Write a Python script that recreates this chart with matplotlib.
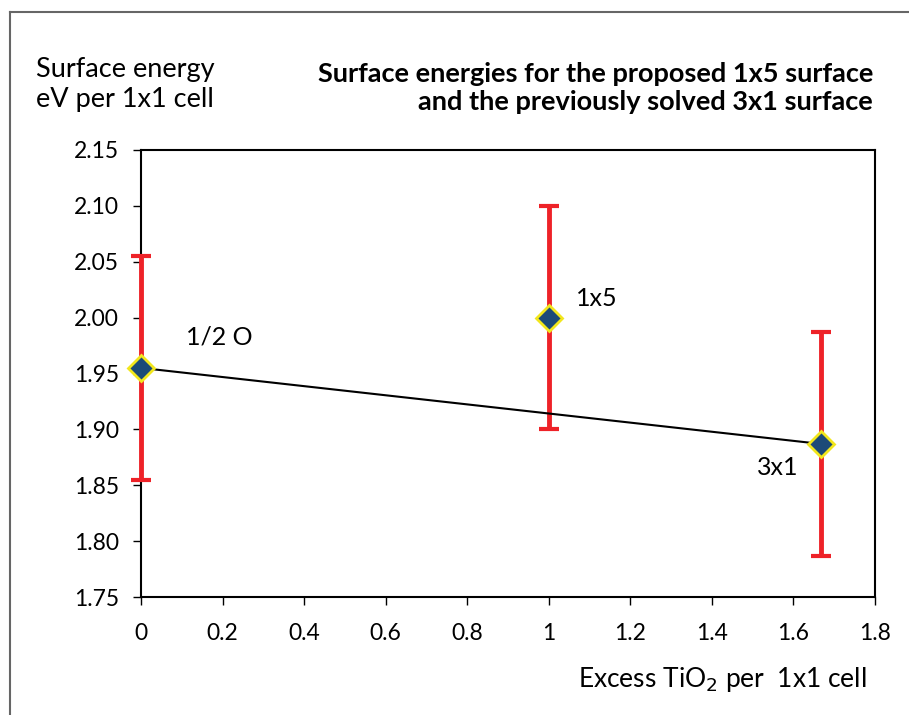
import matplotlib.pyplot as plt
from matplotlib.lines import Line2D

plt.rcParams['font.family'] = ['Lato', 'DejaVu Sans']

# data
labels = ['1/2 O', '1x5', '3x1']
excess_tio2 = [0.0, 1.0, 5 / 3]
energy = [1.955, 2.00, 1.887]
err = [0.10, 0.10, 0.10]
line_idx = [0, 2]  # line joins 1/2 O and 3x1
x_ticks = [0, 0.2, 0.4, 0.6, 0.8, 1, 1.2, 1.4, 1.6, 1.8]
x_tick_labels = ['0', '0.2', '0.4', '0.6', '0.8', '1', '1.2', '1.4', '1.6', '1.8']
y_ticks = [1.75, 1.80, 1.85, 1.90, 1.95, 2.00, 2.05, 2.10, 2.15]

W, H = 909, 715
fig = plt.figure(figsize=(W / 100, H / 100), dpi=100)
ax = fig.add_axes([141 / W, 1 - 597 / H, (875 - 141) / W, (597 - 150) / H])

# outer frame (left and top edges visible)
fig.add_artist(Line2D([10 / W, 10 / W], [0, 1 - 12 / H], color='#666666', lw=1.5))
fig.add_artist(Line2D([10 / W, 1], [1 - 12 / H, 1 - 12 / H], color='#666666', lw=1.5))

eb = ax.errorbar(excess_tio2, energy, yerr=err, fmt='none', ecolor='#ee2228',
                 elinewidth=3.5, capsize=7, capthick=3, zorder=3)
for art in eb.lines[1] + eb.lines[2]:
    art.set_clip_on(False)
ax.plot([excess_tio2[i] for i in line_idx], [energy[i] for i in line_idx],
        color='black', lw=1.5, zorder=4)
ax.plot(excess_tio2, energy, 'D', ms=13, mfc='#1c4a78', mec='#f2e61c', mew=2,
        zorder=5, clip_on=False)

ax.annotate(labels[0], (excess_tio2[0], energy[0]), xytext=(45, 31),
            textcoords='offset pixels', fontsize=18, va='center', ha='left')
ax.annotate(labels[1], (excess_tio2[1], energy[1]), xytext=(27, 19),
            textcoords='offset pixels', fontsize=18, va='center', ha='left')
ax.annotate(labels[2], (excess_tio2[2], energy[2]), xytext=(-64, -24),
            textcoords='offset pixels', fontsize=18, va='center', ha='left')

ax.set_xlim(0, 1.8)
ax.set_ylim(1.75, 2.15)
ax.set_xticks(x_ticks, labels=x_tick_labels)
ax.set_yticks(y_ticks, labels=[f'{v:.2f}' for v in y_ticks])
ax.tick_params(axis='both', direction='out', length=6, width=1, labelsize=16.5)
ax.tick_params(axis='x', pad=13)
ax.tick_params(axis='y', pad=10)
for s in ax.spines.values():
    s.set_linewidth(1.5)
    s.set_zorder(2)

fig.text(36 / W, 1 - 84 / H, 'Surface energy\neV per 1x1 cell', fontsize=19.5,
         ha='left', va='center', linespacing=1.25)
fig.text(873 / W, 1 - 88 / H,
         'Surface energies for the proposed 1x5 surface\nand the previously solved 3x1 surface',
         fontsize=19.5, fontweight='bold', ha='right', va='center', linespacing=1.2)
fig.text(866 / W, 1 - 680 / H, 'Excess TiO$_2$ per  1x1 cell', fontsize=19,
         ha='right', va='center')

fig.savefig('out.png', dpi=100)
